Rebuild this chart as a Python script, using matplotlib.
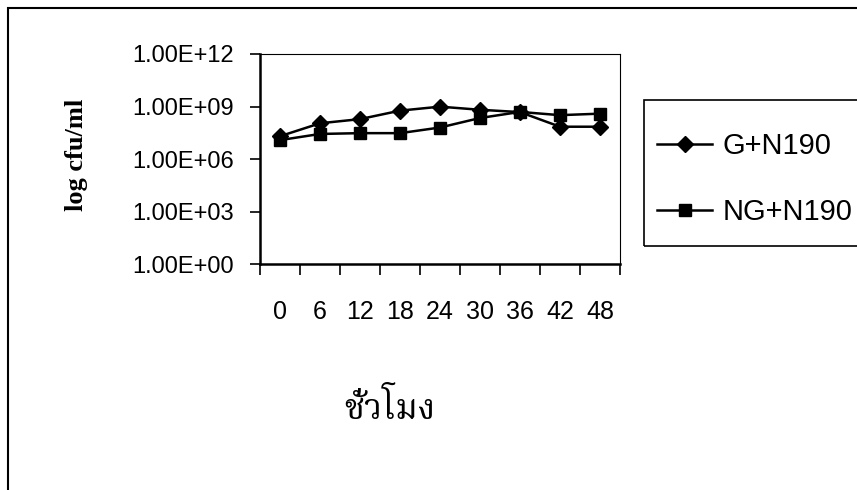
import matplotlib
matplotlib.use("Agg")
import matplotlib.pyplot as plt
from matplotlib import font_manager
from matplotlib.patches import Rectangle
from matplotlib.ticker import FixedLocator, FixedFormatter, NullFormatter

hours = ["0", "6", "12", "18", "24", "30", "36", "42", "48"]
g_n190 = [2.0e7, 1.1e8, 1.9e8, 5.8e8, 9.8e8, 6.5e8, 4.8e8, 7.0e7, 7.0e7]
ng_n190 = [1.2e7, 2.7e7, 3.0e7, 3.0e7, 6.3e7, 2.2e8, 4.9e8, 3.2e8, 3.9e8]
y_ticks = [1e0, 1e3, 1e6, 1e9, 1e12]
y_labels = ["1.00E+00", "1.00E+03", "1.00E+06", "1.00E+09", "1.00E+12"]

names = {f.name for f in font_manager.fontManager.ttflist}
narrow = "Liberation Sans Narrow" if "Liberation Sans Narrow" in names else "Liberation Sans"
thai_font = next((n for n in ["Noto Serif Thai", "FreeSerif", "Sarabun"] if n in names), "DejaVu Sans")

fig = plt.figure(figsize=(8.57, 4.9), dpi=100)
ax = fig.add_axes([0.3034, 0.4612, 0.420, 0.4286])

# outer chart border (cut off at right and bottom like the scan)
fig.patches.append(Rectangle((0.0093, -0.1), 1.2, 0.1 + 0.984, transform=fig.transFigure,
                             fill=False, edgecolor="black", lw=1.5))
# legend box, also running off the right edge
fig.patches.append(Rectangle((644 / 857, 1 - 246 / 490), 0.3, 146 / 490, transform=fig.transFigure,
                             fill=False, edgecolor="black", lw=1.2))

x = range(len(hours))
ax.plot(x, g_n190, color="black", lw=1.8, marker="D", ms=8, label="G+N190")
ax.plot(x, ng_n190, color="black", lw=1.8, marker="s", ms=8.5, label="NG+N190")

ax.set_yscale("log")
ax.set_ylim(1e0, 1e12)
ax.yaxis.set_major_locator(FixedLocator(y_ticks))
ax.yaxis.set_major_formatter(FixedFormatter(y_labels))
ax.yaxis.set_minor_locator(FixedLocator([]))
ax.tick_params(axis="y", labelsize=17, length=7, width=1.2, pad=12)
for t in ax.get_yticklabels():
    t.set_family("Liberation Sans")

ax.set_xlim(-0.5, len(hours) - 0.5)
ax.xaxis.set_major_locator(FixedLocator([i - 0.5 for i in range(len(hours) + 1)]))
ax.xaxis.set_major_formatter(NullFormatter())
ax.xaxis.set_minor_locator(FixedLocator(list(x)))
ax.xaxis.set_minor_formatter(FixedFormatter(hours))
ax.tick_params(axis="x", which="major", length=8, width=1.2)
ax.tick_params(axis="x", which="minor", length=0, labelsize=18, pad=26)
for t in ax.get_xticklabels(minor=True):
    t.set_family(narrow)

for s in ["left", "bottom"]:
    ax.spines[s].set_linewidth(1.8)
for s in ["top", "right"]:
    ax.spines[s].set_linewidth(0.8)

ax.set_ylabel("log cfu/ml", family="Liberation Serif", fontweight="bold", fontsize=19)
ax.yaxis.set_label_coords(-0.478, 0.52)
ax.set_xlabel("ชั่วโมง", family=[thai_font, "DejaVu Sans"], fontweight="bold", fontsize=25)
ax.xaxis.set_label_coords(0.361, -0.6)

leg = fig.legend(*ax.get_legend_handles_labels(), loc="upper left",
                 bbox_to_anchor=(657 / 857, 1 - 132 / 490), bbox_transform=fig.transFigure,
                 frameon=False, prop={"family": "Liberation Sans", "size": 21},
                 labelspacing=1.3, handlelength=1.9, handletextpad=0.35, borderpad=0,
                 borderaxespad=0)

fig.savefig("out.png", dpi=100)
